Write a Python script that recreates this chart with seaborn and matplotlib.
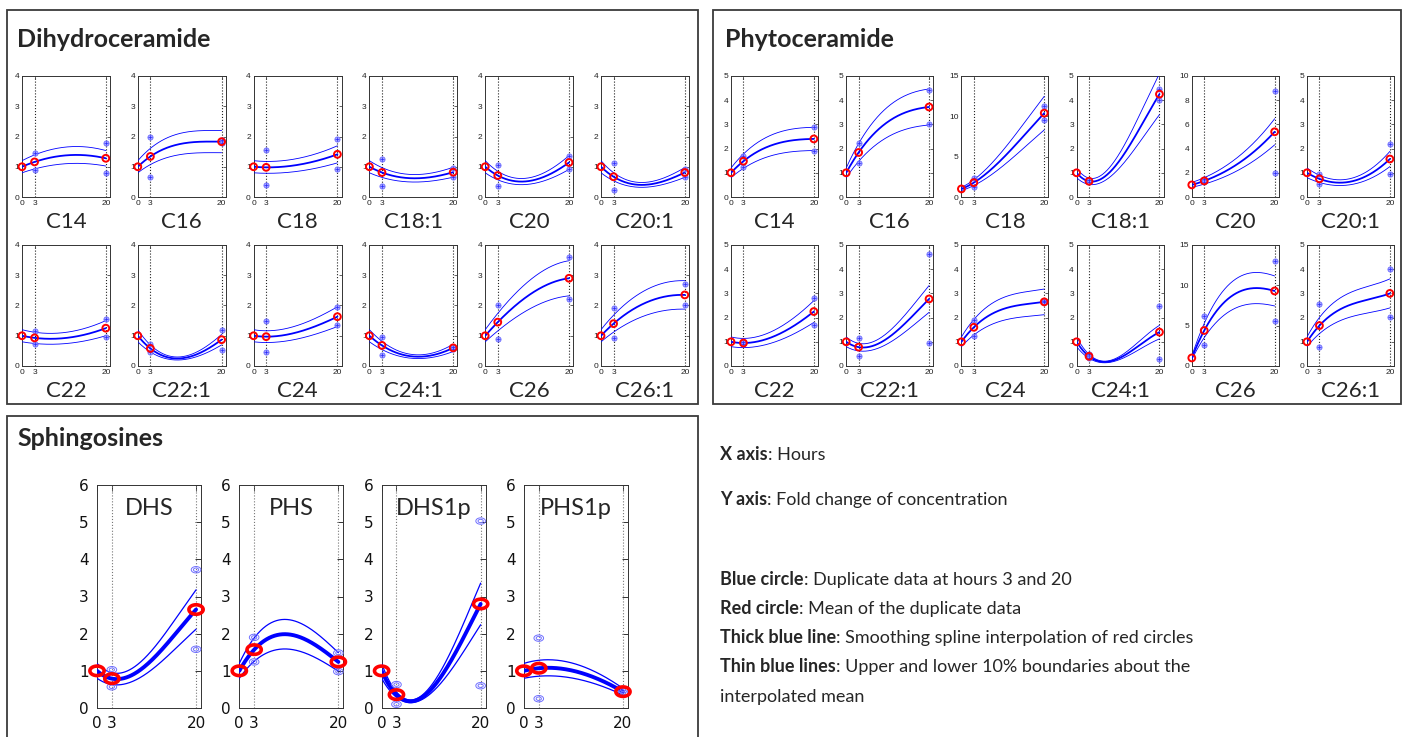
import numpy as np
import matplotlib
matplotlib.use('Agg')
import matplotlib.pyplot as plt
import seaborn as sns
from matplotlib.patches import Rectangle
from matplotlib.path import Path

# ---- data: fold change of concentration ----
hours = [0, 3, 20]
mid_hour = 10   # extra reading of the thick spline, used to shape the curve

dihydro_names = ['C14', 'C16', 'C18', 'C18:1', 'C20', 'C20:1',
                 'C22', 'C22:1', 'C24', 'C24:1', 'C26', 'C26:1']
dihydro_mean3 = [1.16, 1.34, 0.98, 0.81, 0.71, 0.67, 0.93, 0.58, 0.97, 0.68, 1.45, 1.40]
dihydro_mean20 = [1.28, 1.83, 1.41, 0.82, 1.14, 0.81, 1.25, 0.87, 1.63, 0.60, 2.90, 2.35]
dihydro_mid10 = [1.37, 1.75, 1.05, 0.62, 0.52, 0.40, 0.92, 0.25, 1.10, 0.32, 2.30, 2.05]
dihydro_dup3 = [(1.47, 0.88), (2.00, 0.67), (1.57, 0.40), (1.25, 0.35), (1.05, 0.35), (1.14, 0.22),
                (1.15, 0.73), (0.74, 0.46), (1.48, 0.47), (0.97, 0.37), (2.00, 0.90), (1.92, 0.91)]
dihydro_dup20 = [(1.77, 0.80), (1.88, 1.77), (1.93, 0.94), (0.97, 0.66), (1.34, 0.93), (0.92, 0.67),
                 (1.54, 0.96), (1.18, 0.53), (1.94, 1.36), (0.64, 0.57), (3.60, 2.22), (2.70, 2.02)]

phyto_names = ['C14', 'C16', 'C18', 'C18:1', 'C20', 'C20:1',
               'C22', 'C22:1', 'C24', 'C24:1', 'C26', 'C26:1']
phyto_mean3 = [1.48, 1.84, 1.78, 0.65, 1.33, 0.75, 0.95, 0.78, 1.60, 0.40, 4.40, 1.67]
phyto_mean20 = [2.40, 3.72, 10.4, 4.25, 5.39, 1.57, 2.25, 2.77, 2.65, 1.40, 9.30, 3.00]
phyto_mid10 = [2.15, 3.10, 4.80, 1.42, 2.50, 0.62, 1.20, 1.15, 2.35, 0.30, 8.80, 2.50]
phyto_dup3 = [(1.70, 1.24), (2.25, 1.42), (2.30, 1.28), (0.72, 0.64), (1.46, 1.24), (0.94, 0.55),
              (0.99, 0.92), (1.15, 0.40), (1.92, 1.25), (0.48, 0.32), (6.20, 2.60), (2.55, 0.78)]
phyto_dup20 = [(2.90, 1.91), (4.41, 3.00), (11.3, 9.50), (4.48, 4.00), (8.78, 1.99), (2.20, 0.93),
               (2.82, 1.70), (4.62, 0.94), (2.70, 2.63), (2.48, 0.30), (13.0, 5.60), (4.02, 2.02)]
phyto_ymax = [5, 5, 15, 5, 10, 5, 5, 5, 5, 5, 15, 5]

sphingo_names = ['DHS', 'PHS', 'DHS1p', 'PHS1p']
sphingo_mean3 = [0.79, 1.57, 0.36, 1.07]
sphingo_mean20 = [2.65, 1.24, 2.80, 0.44]
sphingo_mid10 = [1.16, 1.98, 0.50, 1.00]
sphingo_dup3 = [(1.03, 0.57), (1.90, 1.24), (0.63, 0.10), (1.88, 0.25)]
sphingo_dup20 = [(3.72, 1.58), (1.48, 0.98), (5.03, 0.60), (0.49, 0.40)]

legend_lines = [('X axis', ': Hours'),
                ('Y axis', ': Fold change of concentration'),
                ('Blue circle', ': Duplicate data at hours 3 and 20'),
                ('Red circle', ': Mean of the duplicate data'),
                ('Thick blue line', ': Smoothing spline interpolation of red circles'),
                ('Thin blue lines', ': Upper and lower 10% boundaries about the'),
                ('', 'interpolated mean')]

# ---- figure ----
sns.set_theme(style='white')
plt.rcParams['font.family'] = ['Lato', 'DejaVu Sans']

W, H = 1408, 737
fig = plt.figure(figsize=(W / 100, H / 100), dpi=100)


def fx(px):
    return px / W


def fy(py):
    return 1 - py / H


def add_ax(left, top, width, height):
    return fig.add_axes([fx(left), fy(top + height), width / W, height / H])


t = np.linspace(0, 2 * np.pi, 41)
ellipse = Path(np.column_stack([1.5 * np.cos(t), np.sin(t)]), closed=True)


def draw_panel(ax, m3, m20, mid, d3, d20, ymax, yticks, big=False):
    means = [1.0, m3, m20]
    coef = np.polyfit([0, 3, mid_hour, 20], [1.0, m3, mid, m20], 3)
    xs = np.linspace(0, 20, 150)
    fit = np.polyval(coef, xs)
    thick, thin = (2.8, 0.9) if big else (1.3, 0.6)
    for yy, lw in [(fit * 1.2, thin), (fit * 0.8, thin), (fit, thick)]:
        sns.lineplot(x=xs, y=yy, ax=ax, color='#0000ff', lw=lw, zorder=3)
    vcol = '#777777' if big else '#222222'
    for xv in (3, 20):
        ax.axvline(xv, color=vcol, ls=':', lw=0.8, zorder=1)
    dx = [3, 3, 20, 20]
    dy = list(d3) + list(d20)
    if big:
        for s in (48, 14):
            ax.scatter(dx, dy, s=s, marker=ellipse, facecolors='none',
                       edgecolors='#6f6fff', linewidths=0.7, zorder=4, clip_on=False)
        ax.scatter(hours, means, s=105, marker=ellipse, facecolors='none',
                   edgecolors='#ff0000', linewidths=2.6, zorder=5, clip_on=False)
    else:
        ax.scatter(dx, dy, s=14, marker='o', facecolors='#9a9aff',
                   edgecolors='#5a5aff', linewidths=0.6, alpha=0.85, zorder=4, clip_on=False)
        ax.scatter(dx, dy, s=5, marker='+', color='#2a2aff', linewidths=0.5, zorder=4,
                   clip_on=False)
        ax.scatter(hours, means, s=24, marker='o', facecolors='none',
                   edgecolors='#ff0000', linewidths=1.4, zorder=5, clip_on=False)
    ax.set_xlim(0, 21)
    ax.set_ylim(0, ymax)
    ax.set_xticks(hours)
    ax.set_yticks(yticks)
    ax.set_xlabel('')
    ax.set_ylabel('')
    for sp in ax.spines.values():
        sp.set_color('#333333')
        sp.set_linewidth(0.7)
    if big:
        ax.tick_params(direction='in', length=4, width=0.6, right=True, top=True,
                       labelsize=11, pad=6, colors='#111111')
        fam = 'DejaVu Sans'
    else:
        ax.tick_params(direction='in', length=2.5, width=0.5, right=True, top=True,
                       labelsize=6, pad=2, colors='#222222')
        fam = 'Liberation Sans'
    for lab in ax.get_xticklabels() + ax.get_yticklabels():
        lab.set_fontfamily(fam)


# section boxes
box_kw = dict(transform=fig.transFigure, fill=False, edgecolor='#3a3a3a', lw=1.3)
fig.patches.append(Rectangle((fx(7), fy(404)), (698 - 7) / W, (404 - 10) / H, **box_kw))
fig.patches.append(Rectangle((fx(713), fy(404)), (1401 - 713) / W, (404 - 10) / H, **box_kw))
fig.patches.append(Rectangle((fx(7), fy(760)), (698 - 7) / W, (760 - 416) / H, **box_kw))

title_kw = dict(fontsize=18, weight='bold', va='baseline', ha='left')
fig.text(fx(17), fy(47), 'Dihydroceramide', **title_kw)
fig.text(fx(725), fy(47), 'Phytoceramide', **title_kw)
fig.text(fx(17), fy(446), 'Sphingosines', **title_kw)

row_tops = [76, 245]
ax_h = 121

# Dihydroceramide
for i, name in enumerate(dihydro_names):
    r, c = divmod(i, 6)
    left = 22 + c * 115.8
    ax = add_ax(left, row_tops[r], 88, ax_h)
    draw_panel(ax, dihydro_mean3[i], dihydro_mean20[i], dihydro_mid10[i],
               dihydro_dup3[i], dihydro_dup20[i], 4, [0, 1, 2, 3, 4])
    fig.text(fx(left + 44), fy(row_tops[r] + ax_h + 31), name, fontsize=16,
             ha='center', va='baseline')

# Phytoceramide
for i, name in enumerate(phyto_names):
    r, c = divmod(i, 6)
    left = 731 + c * 115.2
    ymax = phyto_ymax[i]
    if ymax == 15:
        yt = [0, 5, 10, 15]
    elif ymax == 10:
        yt = [0, 2, 4, 6, 8, 10]
    else:
        yt = [0, 1, 2, 3, 4, 5]
    ax = add_ax(left, row_tops[r], 87, ax_h)
    draw_panel(ax, phyto_mean3[i], phyto_mean20[i], phyto_mid10[i],
               phyto_dup3[i], phyto_dup20[i], ymax, yt)
    fig.text(fx(left + 43.5), fy(row_tops[r] + ax_h + 31), name, fontsize=16,
             ha='center', va='baseline')

# Sphingosines
for i, name in enumerate(sphingo_names):
    left = 97 + i * 142.3
    ax = add_ax(left, 485, 104, 223)
    draw_panel(ax, sphingo_mean3[i], sphingo_mean20[i], sphingo_mid10[i],
               sphingo_dup3[i], sphingo_dup20[i], 6, [0, 1, 2, 3, 4, 5, 6], big=True)
    ax.text(0.5, 1 - 30 / 223, name, transform=ax.transAxes, fontsize=17,
            ha='center', va='baseline')

# explanation text
renderer = fig.canvas.get_renderer()
baselines = [460, 505, 585, 614, 643, 672, 702]
for (bold, rest), yb in zip(legend_lines, baselines):
    x0 = fx(720)
    if bold:
        tb = fig.text(x0, fy(yb), bold, fontsize=13, weight='bold', va='baseline')
        bb = tb.get_window_extent(renderer=renderer)
        x0 = bb.x1 / fig.bbox.width
    fig.text(x0, fy(yb), rest, fontsize=13, va='baseline')

fig.savefig('out.png', dpi=100)
